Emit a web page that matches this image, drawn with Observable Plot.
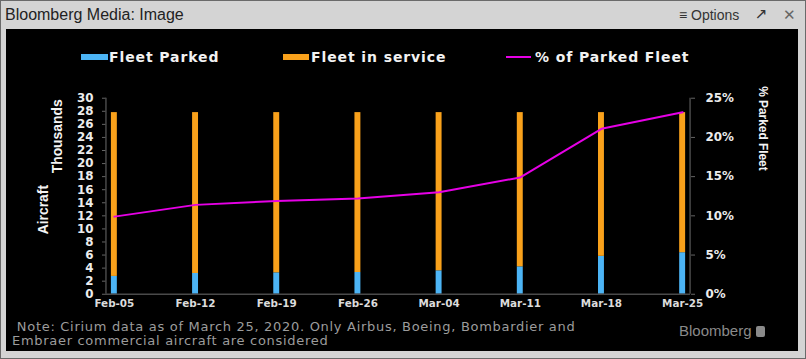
<!DOCTYPE html>
<html>
<head>
<meta charset="utf-8">
<script src="https://cdn.jsdelivr.net/npm/d3@7"></script>
<script src="https://cdn.jsdelivr.net/npm/@observablehq/plot@0.6"></script>
<style>
  html, body { margin: 0; padding: 0; }
  body { width: 806px; height: 359px; overflow: hidden; background: #d4d4d4; }
  #win { position: relative; width: 804px; height: 357px; border: 1px solid #6a6a6a; background: #d4d4d4; }
  #title { position: absolute; left: 4px; top: 5px; font: 16px "Liberation Sans Narrow", "Liberation Sans", sans-serif; color: #222; }
  #opts { position: absolute; left: 678px; top: 6px; font: 14px "Liberation Sans", sans-serif; color: #333; }
  #arrow { position: absolute; left: 754px; top: 4px; font: 15px "DejaVu Sans", sans-serif; color: #333; }
  #close { position: absolute; left: 782px; top: 5px; font: 15px "Liberation Sans", sans-serif; color: #666; }
  #panel { position: absolute; left: 5px; top: 28px; width: 792px; height: 322px; background: #000; }
  #chart { position: absolute; left: -6px; top: 42px; }
  .leg { position: absolute; top: 20px; font: bold 14px "DejaVu Sans", sans-serif; letter-spacing: 0.9px; color: #f2f2f2; white-space: nowrap; }
  .sw { position: absolute; }
  #note { position: absolute; left: 6px; top: 291px; font: 13px "DejaVu Sans", sans-serif; letter-spacing: 0.7px; color: #9c9c9c; line-height: 14px; white-space: nowrap; }
  #logo { position: absolute; left: 673px; top: 293px; font: 15px "Liberation Sans", sans-serif; color: #8a8a8a; }
  #logo span { display: inline-block; width: 9px; height: 11px; background: #8a8a8a; border-radius: 2px; margin-left: 4px; vertical-align: -1px; }
</style>
</head>
<body>
<div id="win">
  <div id="title">Bloomberg Media: Image</div>
  <div id="opts">≡ Options</div>
  <div id="arrow">↗</div>
  <div id="close">✕</div>
  <div id="panel">
    <div class="sw" style="left:75px;top:25px;width:27px;height:6px;background:#4cb4f5"></div>
    <div class="leg" style="left:103px">Fleet Parked</div>
    <div class="sw" style="left:277px;top:25px;width:26px;height:6px;background:#f9a11b"></div>
    <div class="leg" style="left:305px">Fleet in service</div>
    <div class="sw" style="left:500px;top:27px;width:25px;height:2px;background:#e600e6"></div>
    <div class="leg" style="left:529px">% of Parked Fleet</div>
    <div id="chart"></div>
    <div id="note">&nbsp;Note: Cirium data as of March 25, 2020. Only Airbus, Boeing, Bombardier and<br>Embraer commercial aircraft are considered</div>
    <div id="logo">Bloomberg<span></span></div>
  </div>
</div>
<script>
// ---- data (thousands of aircraft, % parked) ----
const dates = ["Feb-05","Feb-12","Feb-19","Feb-26","Mar-04","Mar-11","Mar-18","Mar-25"];
const fleetParked    = [2.73, 3.18, 3.28, 3.33, 3.59, 4.20, 5.80, 6.36];
const fleetInService = [25.07, 24.62, 24.52, 24.47, 24.21, 23.60, 22.00, 21.44];
const pctParked      = [9.9, 11.4, 11.9, 12.2, 13.0, 14.9, 21.1, 23.2];
const leftTicks  = [0,2,4,6,8,10,12,14,16,18,20,22,24,26,28,30];
const rightTicks = [0,5,10,15,20,25];
const series = ["Fleet Parked", "Fleet in service"];
const colors = ["#4cb4f5", "#f9a11b"];
const lineColor = "#e600e6";

const toLeft = p => p * 30 / 25; // map % onto the left (thousands) scale

const bars = [];
dates.forEach((d, i) => {
  bars.push({date: d, series: series[0], value: fleetParked[i]});
  bars.push({date: d, series: series[1], value: fleetInService[i]});
});
const pct = dates.map((d, i) => ({date: d, pct: pctParked[i]}));

const tickFont = {fontFamily: "DejaVu Sans", fontWeight: "bold", fontSize: 12, letterSpacing: "1.5px"};
const ML = 107, MR = 109;

const plot = Plot.plot({
  width: 806,
  height: 248,
  marginLeft: ML,
  marginRight: MR,
  marginTop: 27,
  marginBottom: 23,
  style: {background: "transparent", color: "#e8e8e8", overflow: "visible"},
  x: {domain: dates, type: "band", paddingInner: 0.921, paddingOuter: 0.049},
  y: {domain: [0, 30]},
  color: {domain: series, range: colors},
  marks: [
    Plot.barY(bars, {x: "date", y: "value", fill: "series", order: series}),
    Plot.lineY(pct, {x: "date", y: d => toLeft(d.pct), stroke: lineColor, strokeWidth: 2}),
    Plot.ruleY([0], {stroke: "#4a4a4a", strokeWidth: 1.5}),
    Plot.axisY(leftTicks, {anchor: "left", label: null, tickSize: 4, tickPadding: 9, stroke: "#666", fill: "#ececec", ...tickFont}),
    Plot.axisY(rightTicks.map(toLeft), {anchor: "right", label: null, tickSize: 4, tickPadding: 11, stroke: "#666", fill: "#ececec",
      tickFormat: v => Math.round(v * 25 / 30) + "%", ...tickFont}),
    Plot.axisX({anchor: "bottom", label: null, tickSize: 0, tickPadding: 5, fill: "#dcdcdc",
      fontFamily: "DejaVu Sans", fontWeight: "bold", fontSize: 10.5, letterSpacing: "1px"})
  ]
});
document.getElementById("chart").appendChild(plot);

// axis lines and axis titles
const svg = d3.select(plot);
const ys = plot.scale("y");
const y0 = ys.range[0], y1 = ys.range[1];
const xl = ML, xr = 806 - MR;
svg.append("line").attr("x1", xl).attr("x2", xl).attr("y1", y0).attr("y2", y1).attr("stroke", "#4a4a4a").attr("stroke-width", 1.5);
svg.append("line").attr("x1", xr).attr("x2", xr).attr("y1", y0).attr("y2", y1).attr("stroke", "#4a4a4a").attr("stroke-width", 1.5);
const mid = (y0 + y1) / 2;
svg.append("text").text("Thousands")
  .attr("transform", `translate(63,${mid - 60}) rotate(-90)`)
  .attr("text-anchor", "middle").attr("fill", "#f4f4f4")
  .style("font", "bold 14px 'Liberation Sans'");
svg.append("text").text("Aircraft")
  .attr("transform", `translate(48,${mid + 14}) rotate(-90)`)
  .attr("text-anchor", "middle").attr("fill", "#f4f4f4")
  .style("font", "bold 14px 'Liberation Sans'");
svg.append("text").text("% Parked Fleet")
  .attr("transform", `translate(767,${y1 + 31}) rotate(90)`)
  .attr("text-anchor", "middle").attr("fill", "#f4f4f4")
  .style("font", "bold 12px 'Liberation Sans'");
</script>
</body>
</html>
